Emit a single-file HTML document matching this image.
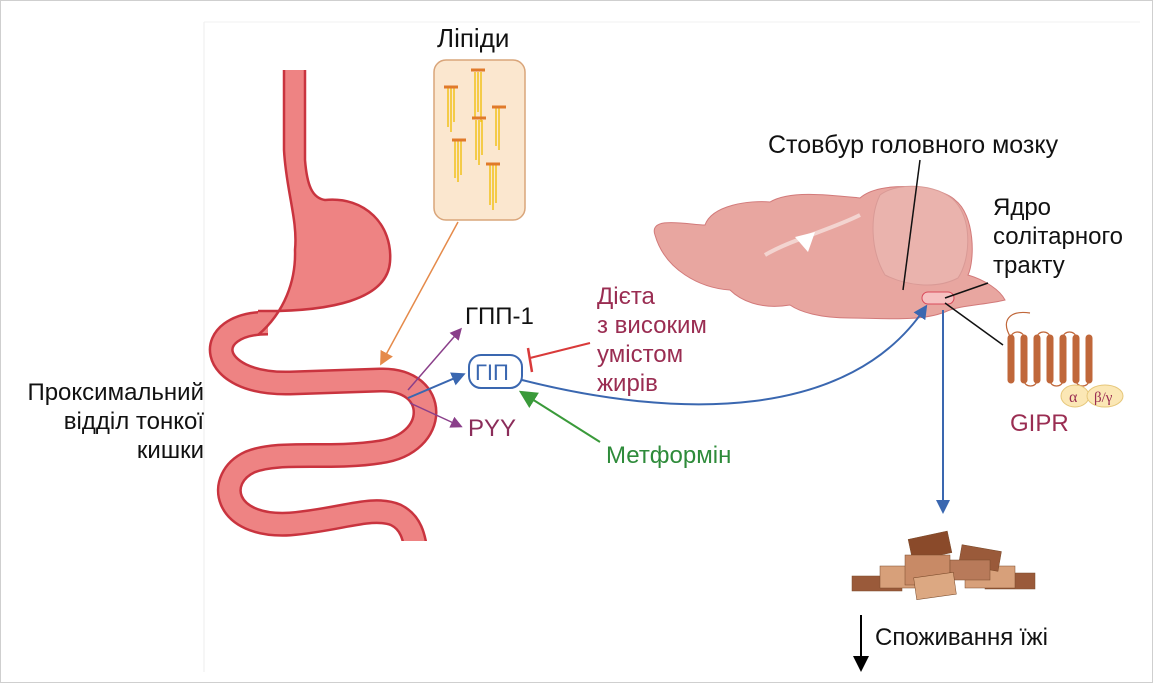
<!DOCTYPE html>
<html><head><meta charset="utf-8"><style>
html,body{margin:0;padding:0;background:#fff;}
body{width:1153px;height:683px;overflow:hidden;position:relative;font-family:"Liberation Sans",sans-serif;}
.frame{position:absolute;left:0;top:0;width:1151px;height:681px;border:1px solid #cfcfcf;}
.t{position:absolute;font-size:24px;line-height:29px;color:#111;white-space:nowrap;}
</style></head><body>
<div class="frame"></div>
<svg width="1153" height="683" style="position:absolute;left:0;top:0">
<defs>
<marker id="ab2" markerWidth="14" markerHeight="14" refX="10" refY="7" orient="auto" markerUnits="userSpaceOnUse"><path d="M0,0 L14,7 L0,14 z" fill="#3a67b0"/></marker>
<marker id="ap" markerWidth="12" markerHeight="12" refX="9" refY="6" orient="auto" markerUnits="userSpaceOnUse"><path d="M0,0 L12,6 L0,12 z" fill="#8a3f8a"/></marker>
<marker id="ao" markerWidth="14" markerHeight="14" refX="10" refY="7" orient="auto" markerUnits="userSpaceOnUse"><path d="M0,0 L14,7 L0,14 z" fill="#e58a4a"/></marker>
<marker id="ag" markerWidth="18" markerHeight="18" refX="12" refY="9" orient="auto" markerUnits="userSpaceOnUse"><path d="M0,0 L18,9 L0,18 z" fill="#3a9a3a"/></marker>
<marker id="ak" markerWidth="16" markerHeight="16" refX="12" refY="8" orient="auto" markerUnits="userSpaceOnUse"><path d="M0,0 L16,8 L0,16 z" fill="#000"/></marker>
</defs>
<!-- gut -->
<g fill="none" stroke-linejoin="round">
<path d="M268 323 C200 323 205 385 290 383 L380 380 C440 378 440 444 380 452 C330 460 280 450 250 462 C215 478 222 528 290 524 C340 520 372 505 396 515 C410 522 415 535 417 560" stroke="#c9343f" stroke-width="25"/>
<path d="M268 323 C200 323 205 385 290 383 L380 380 C440 378 440 444 380 452 C330 460 280 450 250 462 C215 478 222 528 290 524 C340 520 372 505 396 515 C410 522 415 535 417 560" stroke="#ee8383" stroke-width="20"/>
</g>
<path d="M284 70 L305 70 L305 160 C307 185 312 198 325 200 C365 196 393 225 390 262 C387 300 330 312 258 311 L258 335 C285 312 296 280 295 250 C298 220 286 190 284 150 Z" fill="#ee8383"/>
<path d="M258 311 C330 312 387 300 390 262 C393 225 365 196 325 200 C312 198 307 185 305 160 L305 70 M284 70 L284 150 C286 190 298 220 295 250 C296 280 285 312 258 335" fill="none" stroke="#c9343f" stroke-width="2.5"/>
<rect x="200" y="541" width="260" height="140" fill="#fff"/>
<line x1="204" y1="22" x2="204" y2="672" stroke="#ececec" stroke-width="1"/>
<line x1="204" y1="22" x2="1140" y2="22" stroke="#f0f0f0" stroke-width="1"/>
<!-- lipids box -->
<rect x="434" y="60" width="91" height="160" rx="12" fill="#fbe7cf" stroke="#d9a57a" stroke-width="1.5"/>
<g stroke="#f2c21b" stroke-width="1.5">
<path d="M448 87v40M451 87v45M454 87v35M475 72v45M478 72v40M481 72v50M496 108v38M499 108v42M476 120v40M479 120v45M482 120v35M455 140v38M458 140v42M461 140v35M490 165v40M493 165v45M496 165v38"/>
</g>
<g stroke="#e07a2a" stroke-width="3"><path d="M444 87h14M471 70h14M492 107h14M472 118h14M452 140h14M486 164h14"/></g>
<line x1="458" y1="222" x2="382" y2="362" stroke="#e58a4a" stroke-width="1.5" marker-end="url(#ao)"/>
<!-- small arrows -->
<line x1="408" y1="390" x2="460" y2="330" stroke="#8a3f8a" stroke-width="1.5" marker-end="url(#ap)"/>
<line x1="408" y1="398" x2="462" y2="375" stroke="#3a67b0" stroke-width="2" marker-end="url(#ab2)"/>
<line x1="410" y1="403" x2="460" y2="426" stroke="#8a3f8a" stroke-width="1.5" marker-end="url(#ap)"/>
<rect x="469" y="355" width="53" height="33" rx="12" fill="#fff" stroke="#3a67b0" stroke-width="2"/>
<!-- inhibition -->
<line x1="590" y1="343" x2="530" y2="358" stroke="#d93a3a" stroke-width="2"/>
<line x1="528" y1="348" x2="532" y2="372" stroke="#d93a3a" stroke-width="2.5"/>
<line x1="600" y1="442" x2="524" y2="394" stroke="#3a9a3a" stroke-width="2" marker-end="url(#ag)"/>
<!-- brain -->
<path d="M655 235 C648 215 690 225 705 225 C712 205 750 200 770 202 C790 190 830 195 860 198 C880 180 940 185 955 200 C975 215 975 260 968 275 C985 280 1000 290 1005 300 C985 305 960 305 945 312 C920 322 880 318 850 318 C820 318 800 312 790 305 C760 310 740 300 730 290 C700 288 665 270 655 235Z" fill="#e8a6a0" stroke="#d27a7a" stroke-width="1"/>
<path d="M880 195 C900 180 945 185 958 205 C972 225 970 260 958 278 C935 290 905 285 885 275 C870 250 870 215 880 195Z" fill="#eab3ad" stroke="#d99a96" stroke-width="1"/>
<path d="M765 255 C790 240 830 230 860 215" stroke="#f3d4d0" stroke-width="4" fill="none"/>
<path d="M795 237 L815 232 L808 252 Z" fill="#fff"/>
<rect x="922" y="292" width="32" height="12" rx="6" fill="#f6c1c1" stroke="#d94a5a" stroke-width="1"/>
<path d="M522 380 C680 420 850 420 925 308" fill="none" stroke="#3a67b0" stroke-width="2" marker-end="url(#ab2)"/>
<line x1="943" y1="310" x2="943" y2="510" stroke="#3a67b0" stroke-width="2" marker-end="url(#ab2)"/>
<line x1="920" y1="160" x2="903" y2="290" stroke="#111" stroke-width="1.5"/>
<line x1="988" y1="283" x2="945" y2="298" stroke="#111" stroke-width="1.5"/>
<line x1="945" y1="303" x2="1003" y2="345" stroke="#111" stroke-width="1.5"/>
<!-- GIPR -->
<g fill="none" stroke="#c0673a" stroke-width="7" stroke-linecap="round">
<path d="M1011 338v42M1024 338v42M1037 338v42M1050 338v42M1063 338v42M1076 338v42M1089 338v42"/>
</g>
<g fill="none" stroke="#c0673a" stroke-width="1.2">
<path d="M1011 338 C1011 330 1024 330 1024 338M1037 338 C1037 330 1050 330 1050 338M1063 338 C1063 330 1076 330 1076 338M1024 380 C1024 388 1037 388 1037 380M1050 380 C1050 388 1063 388 1063 380M1076 380 C1076 388 1089 388 1089 380M1011 338 C1000 320 1010 310 1030 313"/>
</g>
<ellipse cx="1075" cy="396" rx="14" ry="11" fill="#fbe7b5" stroke="#e6c77a"/>
<ellipse cx="1105" cy="396" rx="18" ry="11" fill="#fbe7b5" stroke="#e6c77a"/>
<text x="1069" y="402" font-family="Liberation Serif,serif" font-size="16" fill="#9a2d52">α</text>
<text x="1094" y="402" font-family="Liberation Serif,serif" font-size="15" fill="#9a2d52">β/γ</text>
<!-- food -->
<g stroke="#7a4a2a" stroke-width="0.5">
<rect x="852" y="576" width="50" height="15" fill="#9a5a3a"/>
<rect x="985" y="573" width="50" height="16" fill="#9a5a3a"/>
<rect x="880" y="566" width="50" height="22" fill="#d7a07a"/>
<rect x="965" y="566" width="50" height="22" fill="#d7a07a"/>
<rect x="910" y="535" width="40" height="22" fill="#8a4a2a" transform="rotate(-12 930 546)"/>
<rect x="960" y="548" width="40" height="20" fill="#9a5a3a" transform="rotate(10 980 558)"/>
<rect x="905" y="555" width="45" height="30" fill="#c88a66"/>
<rect x="950" y="560" width="40" height="20" fill="#b87a5a"/>
<rect x="915" y="575" width="40" height="22" fill="#dca882" transform="rotate(-8 935 586)"/>
</g>
<line x1="861" y1="615" x2="861" y2="668" stroke="#000" stroke-width="2" marker-end="url(#ak)"/>
</svg>
<div class="t" style="left:437px;top:24px;font-size:26px;">Ліпіди</div>
<div class="t" style="left:465px;top:302px;">ГПП-1</div>
<div class="t" style="left:475px;top:358px;color:#3a67b0;font-size:22px;">ГІП</div>
<div class="t" style="left:468px;top:414px;color:#8b2d5a;">PYY</div>
<div class="t" style="left:597px;top:282px;color:#9a2d52;">Дієта<br>з високим<br>умістом<br>жирів</div>
<div class="t" style="left:606px;top:441px;color:#2e8b3a;">Метформін</div>
<div class="t" style="left:768px;top:131px;font-size:25px;">Стовбур головного мозку</div>
<div class="t" style="left:993px;top:193px;">Ядро<br>солітарного<br>тракту</div>
<div class="t" style="left:1010px;top:409px;color:#9a2d52;">GIPR</div>
<div class="t" style="left:875px;top:623px;">Споживання їжі</div>
<div class="t" style="left:4px;top:378px;width:200px;text-align:right;">Проксимальний<br>відділ тонкої<br>кишки</div>
</body></html>
